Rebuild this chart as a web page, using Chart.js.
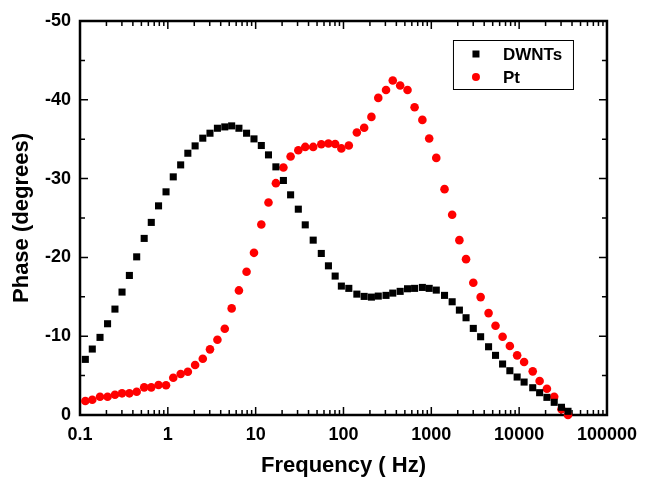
<!DOCTYPE html>
<html>
<head>
<meta charset="utf-8">
<script src="https://cdn.jsdelivr.net/npm/chart.js@4.4.1/dist/chart.umd.min.js"></script>
<style>
  body { margin: 0; background: #fff; }
</style>
</head>
<body>
<canvas id="myChart" width="646" height="479"></canvas>
<script>
const frequency = [0.115, 0.138, 0.169, 0.206, 0.25, 0.301, 0.365, 0.442, 0.538, 0.648,
  0.784, 0.954, 1.153, 1.40, 1.69, 2.045, 2.50, 3.02, 3.67, 4.45,
  5.33, 6.45, 7.88, 9.57, 11.6, 14.0, 17.0, 20.7, 25.0, 30.6,
  36.7, 45.2, 55.9, 67.4, 80.4, 94.6, 115, 142, 172, 208,
  249, 305, 364, 442, 536, 645, 791, 946, 1139, 1414,
  1727, 2088, 2486, 3006, 3644, 4487, 5384, 6480, 7840, 9490,
  11390, 14280, 17110, 20710, 25080, 30330, 36000];

const dwntsPhase = [-7.06, -8.37, -9.85, -11.58, -13.44, -15.6, -17.71, -20.07, -22.41, -24.44,
  -26.54, -28.32, -30.22, -31.74, -33.22, -34.15, -35.13, -35.76, -36.39, -36.56,
  -36.69, -36.39, -35.76, -35.04, -34.2, -33.01, -31.49, -29.76, -27.94, -26.12,
  -24.13, -22.19, -20.5, -18.93, -17.63, -16.36, -16.07, -15.34, -15.05, -14.96,
  -15.09, -15.18, -15.47, -15.69, -16.02, -16.07, -16.19, -16.07, -15.85, -15.18,
  -14.37, -13.31, -12.34, -10.99, -9.93, -8.66, -7.57, -6.47, -5.62, -4.82,
  -4.18, -3.46, -2.83, -2.24, -1.61, -0.98, -0.47];

const ptPhase = [-1.78, -1.94, -2.32, -2.32, -2.57, -2.75, -2.75, -2.95, -3.51, -3.51,
  -3.8, -3.77, -4.73, -5.2, -5.49, -6.34, -7.14, -8.33, -9.55, -10.94,
  -13.53, -15.81, -18.17, -20.58, -24.18, -26.97, -29.42, -31.41, -32.8, -33.6,
  -34.02, -34.02, -34.36, -34.45, -34.4, -33.83, -34.21, -35.85, -36.46, -37.83,
  -40.24, -41.25, -42.44, -41.81, -41.25, -39.06, -37.45, -35.09, -32.63, -28.66,
  -25.42, -22.19, -19.78, -16.78, -14.96, -12.93, -11.32, -9.93, -8.75, -7.57,
  -6.72, -5.54, -4.31, -3.34, -2.32, -0.72, 0];

const xTickValues = [0.1, 1, 10, 100, 1000, 10000, 100000];
const xTickLabels = ["0.1", "1", "10", "100", "1000", "10000", "100000"];
const yTickValues = [0, -10, -20, -30, -40, -50];
const seriesNames = ["DWNTs", "Pt"];

const FONT = "'Liberation Sans', Arial, sans-serif";

function toPoints(values) {
  return frequency.map((f, i) => ({ x: f, y: values[i] }));
}

// box round the plot with ticks pointing inwards on all four sides
const frameAndTicks = {
  id: "frameAndTicks",
  beforeDatasetsDraw(chart) {
    const ctx = chart.ctx;
    const a = chart.chartArea;
    const xs = chart.scales.x;
    const ys = chart.scales.y;
    ctx.save();
    ctx.strokeStyle = "#000";
    ctx.lineWidth = 1.5;
    ctx.beginPath();
    for (let d = 0; d < xTickValues.length; d++) {
      const base = xTickValues[d];
      const last = d === xTickValues.length - 1 ? 1 : 9;
      for (let k = 1; k <= last; k++) {
        const px = xs.getPixelForValue(base * k);
        const len = k === 1 ? 8 : 5;
        ctx.moveTo(px, a.bottom);
        ctx.lineTo(px, a.bottom - len);
        ctx.moveTo(px, a.top);
        ctx.lineTo(px, a.top + len);
      }
    }
    yTickValues.forEach((v) => {
      [v, v - 5].forEach((t, j) => {
        if (t < -50) return;
        const py = ys.getPixelForValue(t);
        const len = j === 0 ? 8 : 5;
        ctx.moveTo(a.left, py);
        ctx.lineTo(a.left + len, py);
        ctx.moveTo(a.right, py);
        ctx.lineTo(a.right - len, py);
      });
    });
    ctx.stroke();
    ctx.lineWidth = 2.5;
    ctx.strokeRect(a.left, a.top, a.right - a.left, a.bottom - a.top);
    ctx.restore();
  },
};

// legend box in the upper right of the plot
const boxLegend = {
  id: "boxLegend",
  afterDraw(chart) {
    const ctx = chart.ctx;
    const a = chart.chartArea;
    const left = a.right - 154;
    const top = a.top + 19;
    ctx.save();
    ctx.fillStyle = "#fff";
    ctx.fillRect(left, top, 120, 49);
    ctx.strokeStyle = "#000";
    ctx.lineWidth = 1;
    ctx.strokeRect(left + 0.5, top + 0.5, 120, 49);
    ctx.font = "bold 17px " + FONT;
    ctx.textBaseline = "middle";
    chart.data.datasets.forEach((ds, i) => {
      const cy = top + 14 + i * 23;
      const cx = left + 23;
      ctx.fillStyle = ds.backgroundColor;
      if (ds.pointStyle === "rect") {
        ctx.fillRect(cx - 3.5, cy - 3.5, 7, 7);
      } else {
        ctx.beginPath();
        ctx.arc(cx, cy, 4, 0, Math.PI * 2);
        ctx.fill();
      }
      ctx.fillStyle = "#000";
      ctx.fillText(ds.label, left + 50, cy + 1);
    });
    ctx.restore();
  },
};

new Chart("myChart", {
  type: "scatter",
  data: {
    datasets: [
      {
        label: seriesNames[0],
        data: toPoints(dwntsPhase),
        pointStyle: "rect",
        pointRadius: 5,
        borderWidth: 0,
        backgroundColor: "#000000",
        borderColor: "#000000",
        clip: false,
      },
      {
        label: seriesNames[1],
        data: toPoints(ptPhase),
        pointStyle: "circle",
        pointRadius: 4.3,
        borderWidth: 0,
        backgroundColor: "#ff0000",
        borderColor: "#ff0000",
        clip: false,
      },
    ],
  },
  options: {
    responsive: false,
    animation: false,
    layout: { padding: { top: 21, right: 35, left: 9, bottom: 0 } },
    plugins: {
      legend: { display: false },
      tooltip: { enabled: false },
    },
    scales: {
      x: {
        type: "logarithmic",
        min: 0.1,
        max: 100000,
        grid: { display: false, drawTicks: false },
        border: { display: false },
        afterBuildTicks: (scale) => {
          scale.ticks = xTickValues.map((v) => ({ value: v }));
        },
        afterFit: (scale) => {
          scale.height = 64;
        },
        ticks: {
          autoSkip: false,
          maxRotation: 0,
          padding: 9,
          color: "#000",
          font: { family: FONT, size: 18, weight: "bold" },
          callback: (v) => xTickLabels[xTickValues.indexOf(v)],
        },
        title: {
          display: true,
          text: "Frequency ( Hz)",
          color: "#000",
          font: { family: FONT, size: 22, weight: "bold" },
          padding: { top: 7, bottom: 0 },
        },
      },
      y: {
        reverse: true,
        min: -50,
        max: 0,
        grid: { display: false, drawTicks: false },
        border: { display: false },
        afterBuildTicks: (scale) => {
          scale.ticks = yTickValues.map((v) => ({ value: v }));
        },
        afterFit: (scale) => {
          scale.width = 71;
        },
        ticks: {
          padding: 9,
          color: "#000",
          font: { family: FONT, size: 18, weight: "bold" },
        },
        title: {
          display: true,
          text: "Phase (degrees)",
          color: "#000",
          font: { family: FONT, size: 22, weight: "bold" },
          padding: { top: 0, bottom: 4 },
        },
      },
    },
  },
  plugins: [frameAndTicks, boxLegend],
});
</script>
</body>
</html>
